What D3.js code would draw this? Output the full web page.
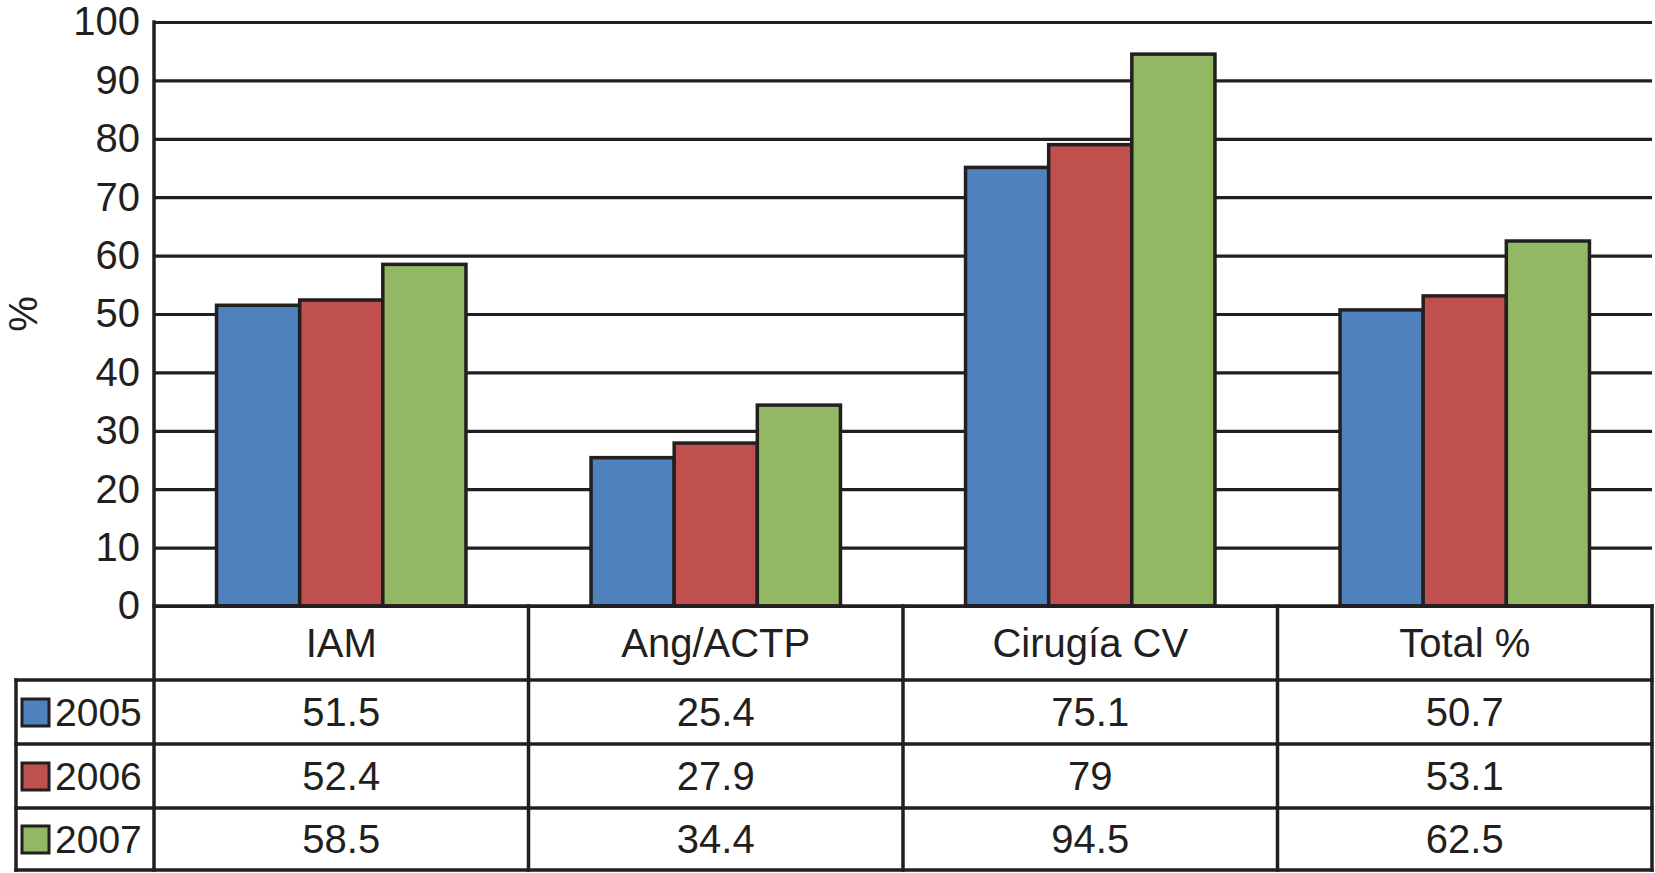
<!DOCTYPE html>
<html lang="es">
<head>
    <meta charset="utf-8" />
    <title>IAM / Ang / Cirugía CV</title>
    <script src="https://cdn.jsdelivr.net/npm/d3@7/dist/d3.min.js"></script>
    <style type="text/css">
        body { margin: 0; background: #fff; }
        text { font-family: "Liberation Sans", Arial, sans-serif; fill: #231f20; }
    </style>
</head>
<body>
    <svg id="canvas" width="1655" height="873" xmlns="http://www.w3.org/2000/svg"></svg>
    <script type="text/javascript">
        var categories = ["IAM", "Ang/ACTP", "Cirugía CV", "Total %"];
        var years = ["2005", "2006", "2007"];
        var v2005 = [51.5, 25.4, 75.1, 50.7];
        var v2006 = [52.4, 27.9, 79, 53.1];
        var v2007 = [58.5, 34.4, 94.5, 62.5];
        var yTicks = [0, 10, 20, 30, 40, 50, 60, 70, 80, 90, 100];
        var colors = ["#4f81bd", "#c0504d", "#93b863"];

        var series = [v2005, v2006, v2007];
        var ink = "#231f20";
        var fontSize = 40;

        var svg = d3.select("#canvas");
        // note: "top" is a read-only global in browsers, so plotTop
        var plotLeft = 154, plotRight = 1652, plotTop = 22, base = 606;
        var legendLeft = 16;
        var rowTops = [606, 680, 744, 808, 870]; // header + 3 rows

        var x = d3.scaleBand().domain(categories).range([plotLeft, plotRight]);
        var xs = d3.scaleBand().domain(years)
            .range([x.bandwidth() * 0.167, x.bandwidth() * 0.833]);
        var y = d3.scaleLinear().domain([0, 100]).range([base, plotTop]);

        // y axis + gridlines
        var yAxis = svg.append("g")
            .attr("transform", "translate(" + plotLeft + ",0)")
            .call(d3.axisLeft(y).tickValues(yTicks)
                .tickSizeInner(-(plotRight - plotLeft)).tickSizeOuter(0).tickPadding(14));
        yAxis.select(".domain").remove();
        yAxis.selectAll("line").attr("stroke", ink).attr("stroke-width", 3.2);
        yAxis.selectAll("text")
            .attr("font-size", fontSize)
            .attr("font-family", "'Liberation Sans', Arial, sans-serif")
            .attr("fill", ink);

        svg.append("text")
            .attr("transform", "translate(37,314) rotate(-90)")
            .attr("text-anchor", "middle")
            .attr("font-size", fontSize)
            .text("%");

        // bars
        var groups = svg.selectAll("g.year")
            .data(series)
            .enter().append("g")
            .attr("class", "year")
            .attr("fill", function (d, i) { return colors[i]; });

        groups.selectAll("rect")
            .data(function (d, i) {
                return d.map(function (v, j) { return { cat: categories[j], year: years[i], v: v }; });
            })
            .enter().append("rect")
            .attr("x", function (d) { return x(d.cat) + xs(d.year); })
            .attr("y", function (d) { return y(d.v); })
            .attr("width", xs.bandwidth())
            .attr("height", function (d) { return base - y(d.v); })
            .attr("stroke", ink)
            .attr("stroke-width", 3.5);

        // data table
        var table = svg.append("g")
            .attr("stroke", ink)
            .attr("stroke-width", 3.5)
            .attr("stroke-linecap", "square");

        // vertical axis line through the table
        table.append("line")
            .attr("x1", plotLeft).attr("x2", plotLeft)
            .attr("y1", plotTop).attr("y2", rowTops[4]);
        table.append("line")
            .attr("x1", plotLeft).attr("x2", plotRight)
            .attr("y1", base).attr("y2", base);

        rowTops.slice(1).forEach(function (ry) {
            table.append("line")
                .attr("x1", legendLeft).attr("x2", plotRight)
                .attr("y1", ry).attr("y2", ry);
        });
        table.append("line")
            .attr("x1", legendLeft).attr("x2", legendLeft)
            .attr("y1", rowTops[1]).attr("y2", rowTops[4]);
        categories.forEach(function (c) {
            var cx = x(c) + x.bandwidth();
            table.append("line")
                .attr("x1", cx).attr("x2", cx)
                .attr("y1", base).attr("y2", rowTops[4]);
        });

        // header text
        svg.selectAll("text.cat")
            .data(categories)
            .enter().append("text")
            .attr("class", "cat")
            .attr("x", function (d) { return x(d) + x.bandwidth() / 2; })
            .attr("y", (rowTops[0] + rowTops[1]) / 2)
            .attr("dy", "0.35em")
            .attr("text-anchor", "middle")
            .attr("font-size", fontSize)
            .text(function (d) { return d; });

        // rows
        series.forEach(function (vals, i) {
            var cy = (rowTops[i + 1] + rowTops[i + 2]) / 2;
            svg.append("rect")
                .attr("x", 22).attr("y", cy - 13)
                .attr("width", 27).attr("height", 27)
                .attr("fill", colors[i])
                .attr("stroke", ink).attr("stroke-width", 3);
            svg.append("text")
                .attr("x", 55).attr("y", cy)
                .attr("dy", "0.35em")
                .attr("font-size", fontSize - 1)
                .text(years[i]);
            svg.selectAll(null)
                .data(vals)
                .enter().append("text")
                .attr("x", function (d, j) { return x(categories[j]) + x.bandwidth() / 2; })
                .attr("y", cy)
                .attr("dy", "0.35em")
                .attr("text-anchor", "middle")
                .attr("font-size", fontSize)
                .text(function (d) { return d; });
        });
    </script>
</body>
</html>
